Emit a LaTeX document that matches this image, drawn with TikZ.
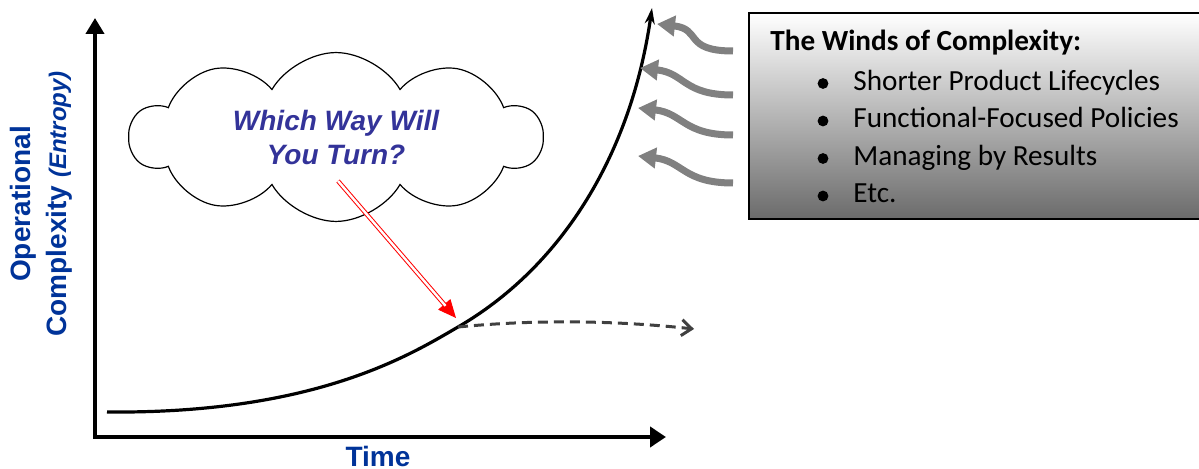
\documentclass[tikz,border=0pt]{standalone}
\usepackage{fontspec}
\setmainfont{Carlito}
\newfontfamily\arialfont{Liberation Sans}
\usetikzlibrary{arrows.meta,shapes.symbols}
\definecolor{axisblue}{RGB}{0,51,153}
\definecolor{cloudblue}{RGB}{51,51,153}
\definecolor{windgray}{RGB}{128,128,128}
\definecolor{dashgray}{RGB}{64,64,64}
\tikzset{
  axislabel/.style={font=\arialfont\bfseries\fontsize{14}{18}\selectfont, text=axisblue},
  windarrow/.style={windgray, line width=3.5pt, -{Triangle[length=9pt,width=10pt]}},
  listitem/.style={anchor=base west, font=\fontsize{14.6}{17}\selectfont, inner sep=0pt},
  bulletdot/.style={circle, fill, inner sep=0pt, minimum size=5.4pt},
}
\begin{document}
\begin{tikzpicture}[x=0.5pt,y=-0.5pt]
\useasboundingbox (0,0) rectangle (1199,469);
\clip (0,0) rectangle (1199,469);
% axes
\coordinate (ytop) at (95,18);
\coordinate (origin) at (95,437);
\coordinate (xend) at (666,437);
\draw[line width=2pt, {Triangle[length=8pt,width=9pt]}-{Triangle[length=8pt,width=10pt]}] (ytop) -- (origin) -- (xend);
\node[axislabel, rotate=90, align=center] (ylab) at (41,204) {Operational\\Complexity {\itshape\fontsize{12}{18}\selectfont(Entropy)}};
\node[axislabel] (tlab) at (378,456) {Time};
% growth curve
\coordinate (cstart) at (107,412);
\coordinate (fork) at (458,327);
\coordinate (ctop) at (652,8);
\draw[line width=1.6pt, -{Stealth[length=8pt,width=5pt]}] (cstart) .. controls (315,414) and (410,355) .. (fork) .. controls (558,269) and (630,160) .. (ctop);
% alternative path
\coordinate (dend) at (694,329);
\draw[dashgray, line width=1.5pt, dash pattern=on 5pt off 3pt, -{Straight Barb[length=5pt,width=8pt]}] (fork) .. controls (540,319) and (620,321) .. (dend);
% cloud
\node[cloud, draw, line width=0.6pt, cloud puffs=10, cloud puff arc=120, aspect=2.6, minimum width=206pt, minimum height=79pt, align=center, text=cloudblue, font=\arialfont\bfseries\itshape\fontsize{14}{17}\selectfont] (cloud) at (336,137) {Which Way Will\\You Turn?};
% pointer
\coordinate (rstart) at (338,181);
\coordinate (rtip) at (456,318);
\draw[red, line width=0.5pt, -{Triangle[length=9pt,width=8pt]}] (rstart) -- (rtip);
\draw[red, line width=0.5pt, double=white, double distance=1.2pt, shorten >=8pt] (rstart) -- (rtip);
% winds
\foreach \ty/\tx [count=\k] in {51/657, 95/640, 135/638, 183/638} {
  \coordinate (ws\k) at (733,\ty);
  \coordinate (wt\k) at (\tx,{\ty-27});
  \draw[windarrow] (ws\k) .. controls +(-50,0) and +(45,5) .. (wt\k);
}
% list box
\node[draw, line width=1pt, top color=white, bottom color=black!58, minimum width=240pt, minimum height=103pt, anchor=north west, inner sep=0pt] (windbox) at (748,12) {};
\node[anchor=base west, inner sep=0pt, font=\bfseries\fontsize{14.6}{17}\selectfont] (title) at (770,51) {The Winds of Complexity:};
\foreach \txt [count=\i] in {Shorter Product Lifecycles, Functional-Focused Policies, Managing by Results, Etc.} {
  \node[listitem] (item\i) at (853,{53+37.5*\i}) {\txt};
  \node[bulletdot] (bul\i) at (823,{46+37.5*\i}) {};
}
\end{tikzpicture}
\end{document}
